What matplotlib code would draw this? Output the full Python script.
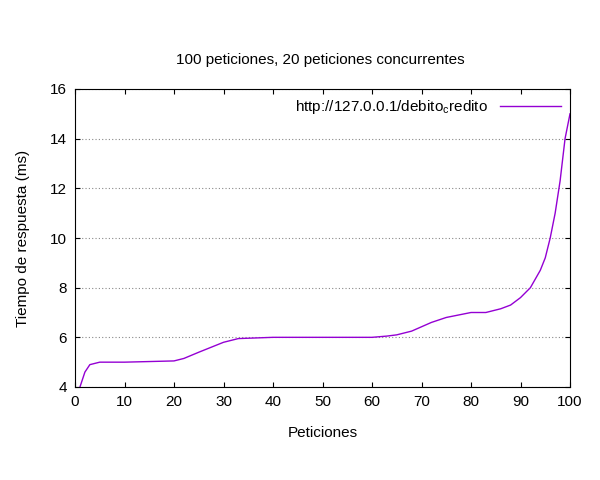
import matplotlib
matplotlib.use("Agg")
import matplotlib.pyplot as plt

plt.rcParams['font.family'] = ['Liberation Sans', 'DejaVu Sans']

# requests vs response time (ms)
peticiones = [0, 1, 2, 3, 5, 10, 20, 22, 25, 30, 33, 40, 50, 60, 63, 65, 68, 72, 75, 80,
              83, 86, 88, 90, 92, 94, 95, 96, 97, 98, 99, 100]
tiempo = [3.6, 4.0, 4.6, 4.9, 5.0, 5.0, 5.05, 5.15, 5.4, 5.8, 5.95, 6.0, 6.0, 6.0, 6.05,
          6.1, 6.25, 6.6, 6.8, 7.0, 7.0, 7.15, 7.3, 7.6, 8.0, 8.7, 9.2, 10.0, 11.0, 12.3, 14.0, 15.0]

fig = plt.figure(figsize=(6, 4.8), dpi=100)
ax = fig.add_axes([75/600, 1-387/480, 495/600, 298/480])
ax.plot(peticiones, tiempo, color="#9400D3", lw=1,
        label="http://127.0.0.1/debito$_\\mathregular{c}$redito")
ax.set_xlim(0, 100)
ax.set_ylim(4, 16)
ax.set_xticks(range(0, 101, 10))
ax.set_yticks(range(4, 17, 2))
ax.yaxis.grid(True, color="#888888", linestyle=(0, (1, 2)), lw=0.8)
ax.tick_params(direction="in", top=True, right=True, labelsize=11, pad=6)
ax.set_xlabel("Peticiones", fontsize=11, labelpad=12)
ax.set_ylabel("Tiempo de respuesta (ms)", fontsize=11, labelpad=14)
fig.text(320/600, 1-60/480, "100 peticiones, 20 peticiones concurrentes",
         ha="center", va="center", fontsize=11)
leg = ax.legend(loc="upper right", frameon=False, fontsize=11,
                markerfirst=False, handlelength=4, borderaxespad=0.2)
fig.savefig("out.png")
